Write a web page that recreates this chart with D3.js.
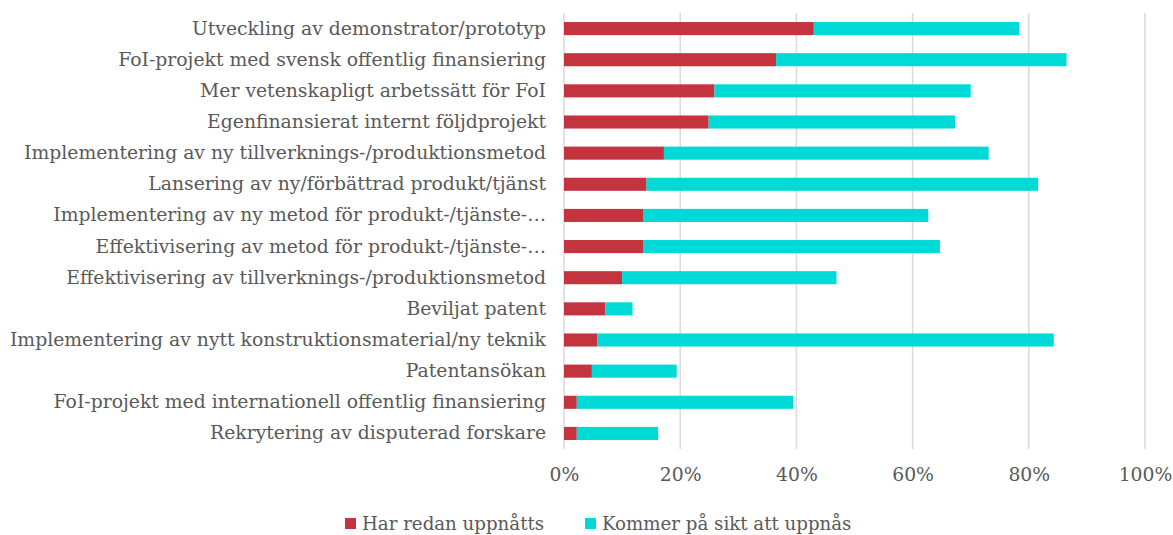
<!DOCTYPE html>
<html>
<head>
<meta charset="utf-8">
<script src="https://cdn.jsdelivr.net/npm/d3@7"></script>
<style>
  body { margin: 0; background: #fff; }
  text { font-family: "DejaVu Serif", "Liberation Serif", serif; fill: #595959; }
</style>
</head>
<body>
<div id="chart"></div>
<script>
// categories, top to bottom
const categories = [
  "Utveckling av demonstrator/prototyp",
  "FoI-projekt med svensk offentlig finansiering",
  "Mer vetenskapligt arbetssätt för FoI",
  "Egenfinansierat internt följdprojekt",
  "Implementering av ny tillverknings-/produktionsmetod",
  "Lansering av ny/förbättrad produkt/tjänst",
  "Implementering av ny metod för produkt-/tjänste-…",
  "Effektivisering av metod för produkt-/tjänste-…",
  "Effektivisering av tillverknings-/produktionsmetod",
  "Beviljat patent",
  "Implementering av nytt konstruktionsmaterial/ny teknik",
  "Patentansökan",
  "FoI-projekt med internationell offentlig finansiering",
  "Rekrytering av disputerad forskare"
];
// share (%) already achieved
const redanUppnatts = [43.0, 36.5, 25.9, 24.9, 17.2, 14.2, 13.6, 13.6, 10.0, 7.1, 5.7, 4.8, 2.2, 2.2];
// share (%) expected later
const kommerUppnas = [35.4, 50.0, 44.1, 42.4, 55.9, 67.4, 49.1, 51.1, 36.9, 4.7, 78.6, 14.6, 37.3, 14.0];
const seriesNames = ["Har redan uppnåtts", "Kommer på sikt att uppnås"];
const colors = ["#C4343E", "#00DAD6"];
const ticks = [0, 20, 40, 60, 80, 100];

const W = 1173, H = 535;
const margin = {top: 13, left: 564, right: 28, bottom: 86};
const fontSize = '18.8px';

const rows = categories.map((c, i) => ({cat: c, a: redanUppnatts[i], b: kommerUppnas[i]}));
const stacked = d3.stack().keys(["a", "b"])(rows);

const x = d3.scaleLinear().domain([0, 100]).range([margin.left, W - margin.right]);
const y = d3.scaleBand().domain(categories).range([margin.top, H - margin.bottom]).paddingInner(0.58).paddingOuter(0.29);

const svg = d3.select('#chart').append('svg')
  .attr('width', W)
  .attr('height', H);

// gridlines
svg.append('g').selectAll('line')
  .data(ticks)
  .enter()
  .append('line')
    .attr('x1', d => x(d)).attr('x2', d => x(d))
    .attr('y1', margin.top).attr('y2', H - margin.bottom)
    .attr('stroke', '#d9d9d9')
    .attr('stroke-width', 1.5);

// bars
svg.append('g').selectAll('g')
  .data(stacked)
  .enter()
  .append('g')
    .attr('fill', (d, i) => colors[i])
  .selectAll('rect')
  .data(d => d)
  .enter()
  .append('rect')
    .attr('x', d => x(d[0]))
    .attr('y', d => y(d.data.cat))
    .attr('width', d => x(d[1]) - x(d[0]))
    .attr('height', y.bandwidth());

// category labels
const yAxis = svg.append('g')
  .attr('transform', `translate(${margin.left - 18},0)`)
  .call(d3.axisLeft(y).tickSize(0).tickPadding(0));
yAxis.select('.domain').remove();
yAxis.selectAll('text')
  .style('font-family', '"DejaVu Serif", serif')
  .style('font-size', fontSize)
  .attr('fill', '#595959');

// x axis labels
const xAxis = svg.append('g')
  .attr('transform', `translate(0,${H - margin.bottom})`)
  .call(d3.axisBottom(x).tickValues(ticks).tickFormat(d => d + '%').tickSize(0).tickPadding(19));
xAxis.select('.domain').remove();
xAxis.selectAll('text')
  .style('font-family', '"DejaVu Serif", serif')
  .style('font-size', fontSize)
  .attr('fill', '#595959');

// legend
const legendX = [345, 585];
const legend = svg.append('g').selectAll('g')
  .data(seriesNames)
  .enter()
  .append('g')
    .attr('transform', (d, i) => `translate(${legendX[i]},518)`);
legend.append('rect')
  .attr('width', 11).attr('height', 11)
  .attr('fill', (d, i) => colors[i]);
legend.append('text')
  .attr('x', 17).attr('y', 5.5)
  .attr('dy', '0.35em')
  .style('font-size', '18.2px')
  .text(d => d);
</script>
</body>
</html>
